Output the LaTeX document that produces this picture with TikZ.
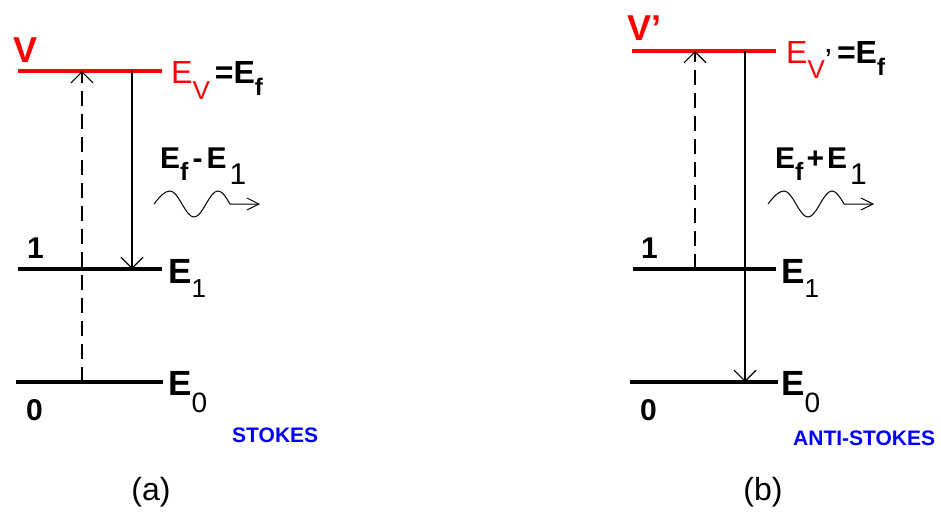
\documentclass[tikz,border=0pt]{standalone}
\usepackage{fontspec}
\setmainfont{Liberation Sans}
\usetikzlibrary{arrows.meta}
\newcommand{\fsz}[1]{\fontsize{#1}{#1}\selectfont}
\newcommand{\lowsub}[3]{\raisebox{-#1pt}{\fsz{#2}#3}}

\begin{document}
\begin{tikzpicture}[x=1pt, y=-1pt,
  level/.style={line width=3.5pt},
  vlevel/.style={level, red},
  lab/.style={inner sep=0pt, anchor=base west},
  pump/.style={-{Straight Barb[length=11pt,width=22pt]}, line width=1.2pt, dash pattern=on 15pt off 8pt},
  emit/.style={-{Straight Barb[length=11pt,width=22pt]}, line width=1.2pt},
  photon/.style={-{Straight Barb[length=12pt,width=12pt]}, line width=1pt},
  kind/.style={lab, text=blue, font=\fsz{21}\bfseries},
  caption/.style={inner sep=0pt, anchor=base, font=\fsz{32}}]
  \useasboundingbox (0,0) rectangle (941,512);

  % (a) Stokes
  \draw[vlevel] (18,71) -- (162,71);
  \draw[level] (18,269) -- (162,269);
  \draw[level] (16,382) -- (163,382);
  \node[lab, text=red, font=\fsz{36}\bfseries] (aV) at (13,62) {V};
  \node[lab, font=\fsz{32}] (aEV) at (171,83)
    {\textcolor{red}{E\lowsub{16}{26}{V}}\hspace{5pt}\textbf{=E\lowsub{12}{24}{f}}};
  \node[lab, font=\fsz{30}\bfseries] (aOne) at (27,258) {1};
  \node[lab, font=\fsz{35}\bfseries] (aE1) at (168,283) {E\lowsub{14}{26}{\mdseries 1}};
  \node[lab, font=\fsz{30}\bfseries] (aZero) at (26,420) {0};
  \node[lab, font=\fsz{35}\bfseries] (aE0) at (168,395) {E\lowsub{17}{28}{\mdseries 0}};
  \node[kind] (aKind) at (232,442) {STOKES};
  \coordinate (aLow) at (82,382);
  \coordinate (aTop) at (82,71);
  \draw[pump] (aLow) -- (aTop);
  \coordinate (aFrom) at (132,71);
  \coordinate (aTo) at (132,269);
  \draw[emit] (aFrom) -- (aTo);
  \node[lab, font=\fsz{30}\bfseries] (aShift) at (160,168)
    {E\lowsub{12}{25}{f}\hspace{4pt}-\hspace{4pt}E\hspace{3pt}\lowsub{16}{30}{\mdseries 1}};
  \coordinate (aWave) at (154,204);
  \draw[photon] (aWave) sin ++(16,-13) cos ++(12,13) sin ++(12,13)
    cos ++(12,-13) sin ++(12,-13) cos ++(12,13) -- ++(30,0);
  \node[caption] (aCap) at (151,500) {(a)};

  % (b) anti-Stokes
  \draw[vlevel] (632,51) -- (776,51);
  \draw[level] (633,269) -- (776,269);
  \draw[level] (630,382) -- (778,382);
  \node[lab, text=red, font=\fsz{36}\bfseries] (bV) at (627,40) {V’};
  \node[lab, font=\fsz{32}] (bEV) at (786,63)
    {\textcolor{red}{E\lowsub{15}{26}{V}}\raisebox{-8pt}{’}\hspace{5pt}\textbf{=E\lowsub{12}{24}{f}}};
  \node[lab, font=\fsz{30}\bfseries] (bOne) at (641,258) {1};
  \node[lab, font=\fsz{35}\bfseries] (bE1) at (781,283) {E\lowsub{14}{26}{\mdseries 1}};
  \node[lab, font=\fsz{30}\bfseries] (bZero) at (640,420) {0};
  \node[lab, font=\fsz{35}\bfseries] (bE0) at (781,395) {E\lowsub{17}{28}{\mdseries 0}};
  \node[kind] (bKind) at (793,445) {ANTI-STOKES};
  \coordinate (bLow) at (695,269);
  \coordinate (bTop) at (695,51);
  \draw[pump] (bLow) -- (bTop);
  \coordinate (bFrom) at (745,51);
  \coordinate (bTo) at (745,382);
  \draw[emit] (bFrom) -- (bTo);
  \node[lab, font=\fsz{30}\bfseries] (bShift) at (775,168)
    {E\lowsub{12}{25}{f}\hspace{3pt}+\hspace{3pt}E\hspace{3pt}\lowsub{16}{30}{\mdseries 1}};
  \coordinate (bWave) at (768,204);
  \draw[photon] (bWave) sin ++(16,-13) cos ++(12,13) sin ++(12,13)
    cos ++(12,-13) sin ++(12,-13) cos ++(12,13) -- ++(30,0);
  \node[caption] (bCap) at (763,500) {(b)};
\end{tikzpicture}
\end{document}
